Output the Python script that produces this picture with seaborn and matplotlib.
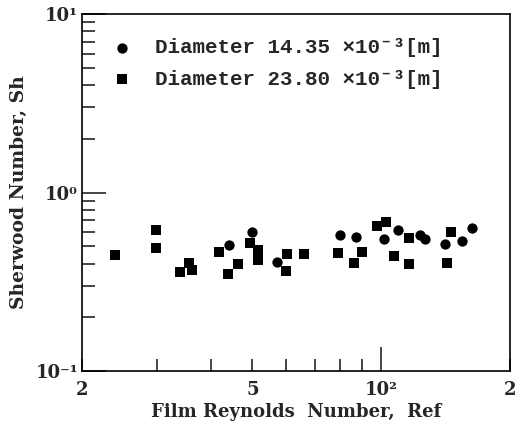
import matplotlib
matplotlib.use("Agg")
import matplotlib.pyplot as plt
import seaborn as sns

# data (Re_f, Sh)
re_small = [44.0, 49.9, 57.2, 80.1, 87.2, 101.6, 109.5, 123.3, 126.4, 141.1, 154.2, 163.0]
sh_small = [0.506, 0.605, 0.408, 0.575, 0.563, 0.551, 0.619, 0.575, 0.551, 0.517, 0.532, 0.632]

re_large = [23.9, 29.8, 29.7, 33.9, 35.6, 36.1, 41.7, 43.9, 46.3, 49.5, 51.6, 51.6,
            60.3, 60.0, 66.0, 79.4, 86.4, 90.4, 98.0, 102.5, 107.2, 116.2, 116.2, 142.4, 145.6]
sh_large = [0.449, 0.613, 0.489, 0.359, 0.403, 0.367, 0.464, 0.348, 0.396, 0.521, 0.474, 0.417,
            0.454, 0.362, 0.450, 0.458, 0.403, 0.464, 0.646, 0.682, 0.439, 0.556, 0.400, 0.403, 0.600]

labels = ["Diameter 14.35 ×10⁻³[m]", "Diameter 23.80 ×10⁻³[m]"]
xtick_vals = [20, 30, 40, 50, 60, 70, 80, 90, 100, 200]
xtick_text = ["2", "", "", "5", "", "", "", "", "10²", "2"]
ytick_vals = [0.1, 1, 10]
ytick_text = ["10⁻¹", "10⁰", "10¹"]

sns.set_style("ticks")
plt.rcParams["font.family"] = ["DejaVu Serif"]

fig = plt.figure(figsize=(5.23, 4.26), dpi=100)
ax = fig.add_axes([0.157, 0.129, 0.818, 0.838])

sns.scatterplot(x=re_small, y=sh_small, marker="o", color="black", s=55,
                linewidth=0, ax=ax, label=labels[0])
sns.scatterplot(x=re_large, y=sh_large, marker="s", color="black", s=55,
                linewidth=0, ax=ax, label=labels[1])

ax.set_xscale("log")
ax.set_yscale("log")
ax.set_xlim(20, 200)
ax.set_ylim(0.1, 10)

ax.set_xticks(xtick_vals)
ax.set_xticklabels(xtick_text, fontweight="bold", fontsize=13)
ax.xaxis.set_minor_locator(plt.NullLocator())
ax.tick_params(axis="x", direction="in", length=9, width=1.2, pad=7)
for t, v in zip(ax.xaxis.get_major_ticks(), xtick_vals):
    if v == 100:
        t.tick1line.set_markersize(17)

ax.set_yticks(ytick_vals)
ax.set_yticklabels(ytick_text, fontweight="bold", fontsize=13)
ax.set_yticks([m * d for d in (0.1, 1) for m in range(2, 10)], minor=True)
ax.yaxis.set_minor_formatter(plt.NullFormatter())
ax.tick_params(axis="y", which="major", direction="in", length=17, width=1.2, pad=3)
ax.tick_params(axis="y", which="minor", direction="in", length=9, width=1.2)

for sp in ax.spines.values():
    sp.set_linewidth(1.2)
    sp.set_color("black")

ax.set_xlabel("Film Reynolds  Number,  Ref", fontweight="bold", fontsize=13, labelpad=3)
ax.set_ylabel("Sherwood Number, Sh", fontweight="bold", fontsize=13.5, labelpad=5)

leg = ax.legend(loc="upper left", bbox_to_anchor=(0.0, 0.985), frameon=False,
                prop={"family": ["Liberation Mono", "DejaVu Sans Mono"], "weight": "bold", "size": 15},
                labelspacing=0.6, handletextpad=0.6, markerscale=1.0)

fig.savefig("out.png", dpi=100)
